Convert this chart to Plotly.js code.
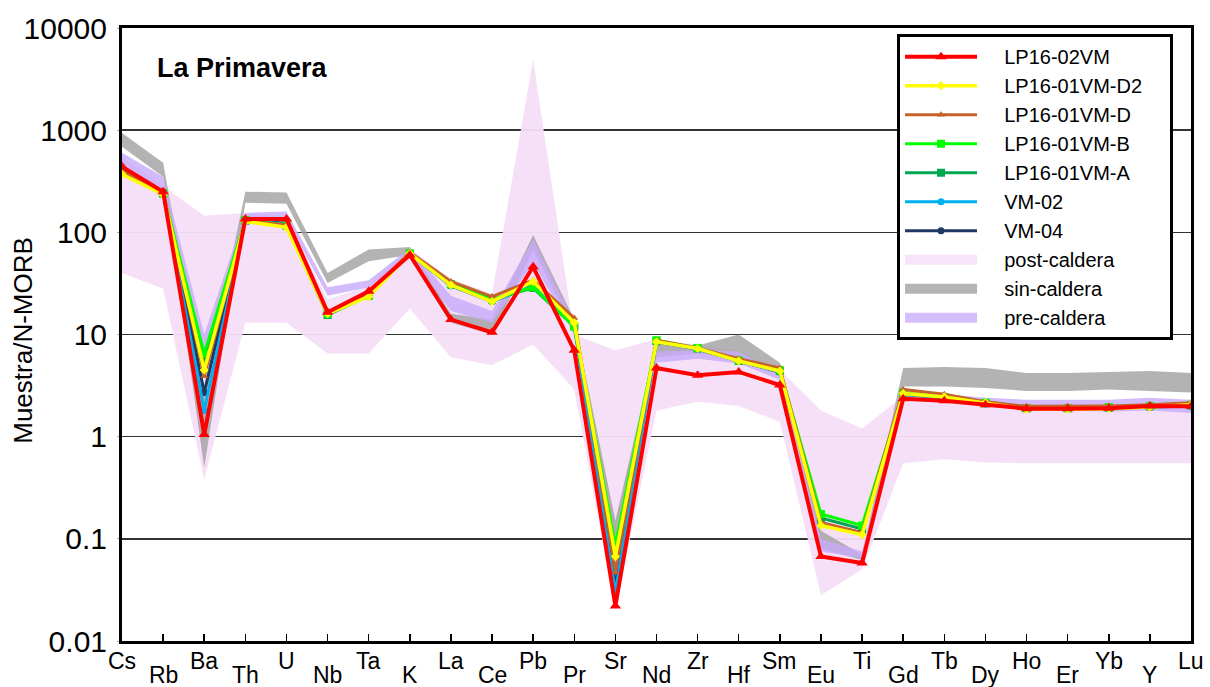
<!DOCTYPE html>
<html>
<head>
<meta charset="utf-8">
<script src="https://cdn.plot.ly/plotly-3.0.1.min.js"></script>
<style>
  html, body { margin: 0; padding: 0; background: #ffffff; }
  #chart { width: 1210px; height: 687px; }
</style>
</head>
<body>
<div id="chart"></div>
<script>
// ---- Data ----
const categories = ['Cs','Rb','Ba','Th','U','Nb','Ta','K','La','Ce','Pb','Pr','Sr','Nd','Zr','Hf','Sm','Eu','Ti','Gd','Tb','Dy','Ho','Er','Yb','Y','Lu'];

const LP16_02VM    = [440, 250, 1.05, 135, 135, 16.5, 26.5, 60, 14, 10.5, 46, 7, 0.022, 4.7, 4.0, 4.3, 3.2, 0.067, 0.058, 2.35, 2.25, 2.05, 1.88, 1.88, 1.9, 2.0, 1.98];
const LP16_01VM_D2 = [370, 235, 4.5, 128, 112, 16, 23.5, 62, 30.5, 21, 33, 13, 0.067, 8.5, 7.3, 5.5, 4.4, 0.135, 0.11, 2.65, 2.45, 2.15, 1.85, 1.85, 1.88, 1.95, 2.05];
const LP16_01VM_D  = [400, 245, 3.9, 130, 118, 16.5, 25, 64, 33, 23.5, 34, 14.5, 0.047, 8.8, 7.4, 5.8, 4.7, 0.145, 0.115, 2.9, 2.6, 2.2, 1.98, 1.98, 2.0, 2.05, 2.15];
const LP16_01VM_B  = [390, 240, 6.5, 132, 118, 16, 24, 62, 31, 22, 29, 12, 0.085, 8.8, 7.4, 5.6, 4.5, 0.175, 0.135, 2.7, 2.45, 2.15, 1.9, 1.9, 1.95, 2.0, 2.05];
const LP16_01VM_A  = [395, 240, 5.5, 130, 116, 15.5, 24, 62, 31, 22, 28.5, 12, 0.075, 8.6, 7.3, 5.5, 4.4, 0.16, 0.125, 2.65, 2.4, 2.12, 1.9, 1.9, 1.92, 1.98, 2.02];
const VM_02        = [410, 245, 1.8, 132, 120, 16, 25, 62, 30, 21, 30, 12, 0.03, 8.5, 7.2, 5.5, 4.3, 0.14, 0.115, 2.6, 2.4, 2.1, 1.88, 1.88, 1.9, 1.95, 2.0];
const VM_04        = [420, 248, 2.7, 133, 122, 16, 25, 62, 30, 21, 31, 12.5, 0.035, 8.5, 7.2, 5.5, 4.3, 0.14, 0.115, 2.6, 2.4, 2.1, 1.88, 1.88, 1.9, 1.95, 2.0];

// Field ranges (upper / lower envelopes)
const postUpper = [550, 280, 145, 155, 140, 22, 30, 70, 35, 25, 4900, 10, 7, 9, 8, 7, 4.5, 1.8, 1.2, 2.5, 2.3, 2.2, 2.0, 2.0, 2.0, 2.1, 2.1];
const postLower = [40, 28, 0.38, 13, 13, 6.5, 6.5, 18, 6, 5, 8, 2.9, 0.02, 1.8, 2.2, 2.0, 1.4, 0.028, 0.05, 0.55, 0.6, 0.56, 0.55, 0.55, 0.55, 0.55, 0.55];
const sinUpper  = [940, 480, 3, 250, 245, 40, 68, 72, 16, 14, 94, 14, 0.15, 8.5, 7.8, 10, 5.3, 0.12, 0.07, 4.7, 4.8, 4.7, 4.2, 4.2, 4.3, 4.4, 4.2];
const sinLower  = [690, 350, 0.5, 195, 190, 32, 52, 60, 13, 10, 67, 11, 0.03, 6, 6.5, 6, 4.5, 0.08, 0.062, 3.1, 3.1, 3.0, 2.8, 2.8, 2.9, 2.8, 2.7];
const preUpper  = [600, 350, 10, 155, 160, 29, 34, 70, 24, 17, 85, 13, 0.08, 6.8, 7, 6.8, 4.2, 0.1, 0.075, 2.7, 2.6, 2.4, 2.3, 2.3, 2.3, 2.4, 2.3];
const preLower  = [410, 260, 4, 133, 133, 24, 29, 60, 17, 13, 50, 10, 0.03, 5.3, 5.8, 5.2, 3.6, 0.075, 0.065, 2.4, 2.3, 2.1, 1.9, 1.8, 1.75, 1.8, 1.7];

const seriesNames = ['LP16-02VM','LP16-01VM-D2','LP16-01VM-D','LP16-01VM-B','LP16-01VM-A','VM-02','VM-04'];
const seriesData  = [LP16_02VM, LP16_01VM_D2, LP16_01VM_D, LP16_01VM_B, LP16_01VM_A, VM_02, VM_04];
const seriesColors = ['#ff0000','#ffff00','#c4622a','#00ff00','#00a651','#00b0f0','#1f3864'];
const seriesSymbols = ['triangle-up','diamond','triangle-up','square','square','circle','circle'];
const seriesMarkerSize = [10, 7, 7, 8, 8, 7, 7];
const seriesWidth = [4, 3.5, 3, 3, 3, 3, 3];

const bandNames = ['post-caldera','sin-caldera','pre-caldera'];
const bandUpper = [postUpper, sinUpper, preUpper];
const bandLower = [postLower, sinLower, preLower];
const bandColors = ['rgba(246,222,248,0.95)','rgba(160,160,160,0.8)','rgba(200,170,250,0.8)'];
const bandLegendColors = ['rgb(248,228,248)','rgb(180,180,180)','rgb(214,190,252)'];

const idx = categories.map((c, i) => i);
const pad = '\u00a0\u00a0\u00a0\u00a0';

const traces = [];
bandNames.forEach((name, b) => {
  traces.push({
    type: 'scatter',
    name: name,
    x: idx.concat(idx.slice().reverse()),
    y: bandUpper[b].concat(bandLower[b].slice().reverse()),
    fill: 'toself',
    fillcolor: bandColors[b],
    mode: 'lines',
    line: { width: 0, color: bandColors[b] },
    hoverinfo: 'skip',
    showlegend: false
  });
});
// draw samples with red on top
for (let s = seriesNames.length - 1; s >= 0; s--) {
  traces.push({
    type: 'scatter',
    name: pad + seriesNames[s] + pad,
    legendgroup: 'g' + s,
    x: idx,
    y: seriesData[s],
    mode: 'lines+markers',
    line: { color: seriesColors[s], width: seriesWidth[s] },
    marker: { color: seriesColors[s], symbol: seriesSymbols[s], size: seriesMarkerSize[s] },
    legendrank: 1 + s
  });
}
// legend swatches for the fields (legend-only entries)
bandNames.forEach((name, b) => {
  traces.push({
    type: 'scatter',
    name: pad + name,
    legendgroup: 'b' + b,
    x: [null], y: [null],
    mode: 'lines',
    line: { color: bandLegendColors[b], width: 10 },
    legendrank: 100 + b,
    hoverinfo: 'skip'
  });
});

const annotations = [];
categories.forEach((c, i) => {
  annotations.push({
    x: i, xref: 'x', y: 0, yref: 'paper',
    text: c, showarrow: false,
    xanchor: 'center', yanchor: 'middle',
    yshift: (i % 2 === 0) ? -20 : -34,
    font: { family: 'Liberation Sans, Arial, sans-serif', size: 23, color: '#000' }
  });
});
annotations.push({
  x: 0.031, xref: 'paper', y: 0.935, yref: 'paper',
  text: '<b>La Primavera</b>', showarrow: false, xanchor: 'left', yanchor: 'middle',
  font: { family: 'Liberation Sans, Arial, sans-serif', size: 27, color: '#000' }
});
annotations.push({
  x: -0.0925, xref: 'paper', y: 0.49, yref: 'paper',
  text: 'Muestra/N-MORB', showarrow: false, textangle: -90,
  xanchor: 'center', yanchor: 'middle',
  font: { family: 'Liberation Sans, Arial, sans-serif', size: 26, color: '#000' }
});

const layout = {
  width: 1210, height: 687,
  margin: { l: 122, r: 19, t: 28, b: 46 },
  paper_bgcolor: '#ffffff', plot_bgcolor: '#ffffff',
  font: { family: 'Liberation Sans, Arial, sans-serif', color: '#000' },
  showlegend: true,
  legend: {
    x: 0.725, y: 0.99, xanchor: 'left', yanchor: 'top',
    bgcolor: '#ffffff', bordercolor: '#000', borderwidth: 3,
    font: { family: 'Liberation Sans, Arial, sans-serif', size: 20, color: '#000' },
    itemwidth: 72,
    tracegroupgap: 0
  },
  xaxis: {
    range: [0, 26], showgrid: false, zeroline: false,
    tickvals: idx, ticks: 'inside', ticklen: 7, tickwidth: 1.5, tickcolor: '#000',
    showticklabels: false,
    showline: true, mirror: true, linewidth: 3, linecolor: '#000'
  },
  yaxis: {
    type: 'log', range: [-2, 4],
    tickvals: [0.01, 0.1, 1, 10, 100, 1000, 10000],
    ticktext: ['0.01','0.1','1','10','100','1000','10000'],
    showgrid: true, gridcolor: '#333', gridwidth: 1.5,
    ticks: 'outside', ticklen: 2, tickcolor: '#aaa', ticklabelstandoff: 4,
    tickfont: { family: 'Liberation Sans, Arial, sans-serif', size: 30, color: '#000' },
    showline: true, mirror: true, linewidth: 3, linecolor: '#000', zeroline: false
  },
  annotations: annotations
};

Plotly.newPlot('chart', traces, layout, { displayModeBar: false, staticPlot: true });
</script>
</body>
</html>
